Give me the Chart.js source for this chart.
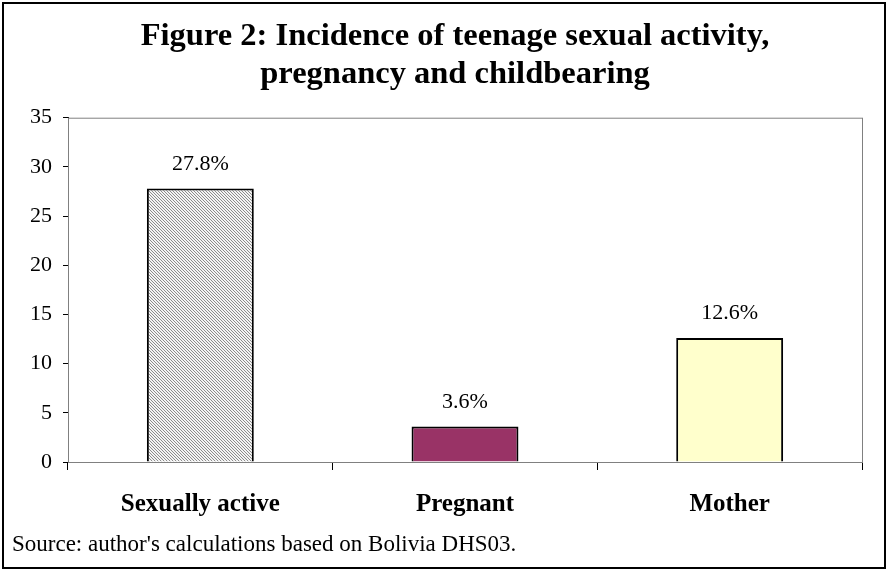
<!DOCTYPE html>
<html>
<head>
<meta charset="utf-8">
<script src="https://cdn.jsdelivr.net/npm/chart.js@4.4.1/dist/chart.umd.min.js"></script>
<style>
  html, body { margin: 0; padding: 0; background: #ffffff; }
  #wrap { width: 892px; height: 570px; position: relative; }
</style>
</head>
<body>
<div id="wrap"><canvas id="chart"></canvas></div>
<script>
// ======================================
// Data
// ======================================

const categories = ["Sexually active", "Pregnant", "Mother"];

const incidence = [27.8, 3.6, 12.6];

const valueLabels = ["27.8%", "3.6%", "12.6%"];

const yTicks = [0, 5, 10, 15, 20, 25, 30, 35];

const titleLines = [
    "Figure 2: Incidence of teenage sexual activity,",
    "pregnancy and childbearing"
];

const sourceNote = "Source: author's calculations based on Bolivia DHS03.";

const SERIF = "'Liberation Serif', 'Times New Roman', serif";

// ======================================
// Hatch pattern for first bar
// ======================================

function makeHatch() {

    const c = document.createElement("canvas");
    c.width = 3;
    c.height = 3;
    const g = c.getContext("2d");
    g.fillStyle = "#f4f4f4";
    g.fillRect(0, 0, 3, 3);
    g.fillStyle = "#8c8c8c";
    for (let y = 0; y < 3; y++) {
        g.fillRect(y, y, 1, 1);
    }
    return g.createPattern(c, "repeat");

}

// ======================================
// Plugins
// ======================================

const frameAndNotes = {

    id: "frameAndNotes",

    beforeDatasetsDraw(chart) {
        const { ctx, chartArea } = chart;
        ctx.save();
        ctx.strokeStyle = "#808080";
        ctx.lineWidth = 1;
        ctx.strokeRect(chartArea.left + 0.5, chartArea.top + 0.5,
            chartArea.right - chartArea.left, chartArea.bottom - chartArea.top);
        ctx.restore();
    },

    afterDatasetsDraw(chart) {
        const { ctx } = chart;
        const meta = chart.getDatasetMeta(0);
        ctx.save();
        ctx.fillStyle = "#000000";
        ctx.font = "22px " + SERIF;
        ctx.textAlign = "center";
        ctx.textBaseline = "alphabetic";
        meta.data.forEach((bar, i) => {
            ctx.fillText(valueLabels[i], bar.x, bar.y - 19);
        });
        ctx.restore();
    },

    afterDraw(chart) {
        const { ctx } = chart;
        ctx.save();
        ctx.fillStyle = "#000000";
        ctx.font = "23px " + SERIF;
        ctx.textAlign = "left";
        ctx.textBaseline = "alphabetic";
        ctx.fillText(sourceNote, 12, 551);
        ctx.strokeStyle = "#000000";
        ctx.lineWidth = 2;
        ctx.strokeRect(3, 3, 882, 565);
        ctx.restore();
    }

};

// ======================================
// Chart
// ======================================

const ctx = document
    .getElementById("chart")
    .getContext("2d");

const chart = new Chart(ctx, {

    type: "bar",

    data: {

        labels: categories,

        datasets: [{

            data: incidence,

            backgroundColor: [makeHatch(), "#993366", "#FFFFCC"],

            borderColor: "#000000",

            borderWidth: 2,

            categoryPercentage: 1,

            barPercentage: 0.404

        }]
    },

    options: {

        responsive: true,

        maintainAspectRatio: false,

        animation: false,

        layout: {
            padding: { left: 20, right: 2, top: 0, bottom: 52 }
        },

        plugins: {

            legend: { display: false },

            tooltip: { enabled: false },

            title: {
                display: true,
                text: titleLines,
                color: "#000000",
                font: { family: SERIF, size: 32.5, weight: "bold", lineHeight: 1.18 },
                padding: { top: 17, bottom: 24 }
            }

        },

        scales: {

            x: {
                grid: {
                    offset: true,
                    drawOnChartArea: false,
                    tickLength: 8,
                    color: "#000000"
                },
                border: { color: "#000000", width: 1 },
                ticks: {
                    color: "#000000",
                    padding: 20,
                    font: { family: SERIF, size: 25, weight: "bold" }
                },
                afterFit(scale) { scale.height = 56; }
            },

            y: {
                min: yTicks[0],
                max: yTicks[yTicks.length - 1],
                grid: {
                    drawOnChartArea: false,
                    tickLength: 5,
                    color: "#000000"
                },
                border: { color: "#000000", width: 1 },
                ticks: {
                    stepSize: yTicks[1] - yTicks[0],
                    color: "#000000",
                    padding: 11,
                    font: { family: SERIF, size: 22 }
                },
                afterFit(scale) { scale.width = 48; }
            },

            // empty right-hand margin so the plot ends where the reference does
            spacer: {
                position: "right",
                min: yTicks[0],
                max: yTicks[yTicks.length - 1],
                grid: { display: false },
                border: { display: false },
                ticks: { display: false },
                afterFit(scale) { scale.width = 28; }
            }

        }

    },

    plugins: [frameAndNotes]

});
</script>
</body>
</html>
